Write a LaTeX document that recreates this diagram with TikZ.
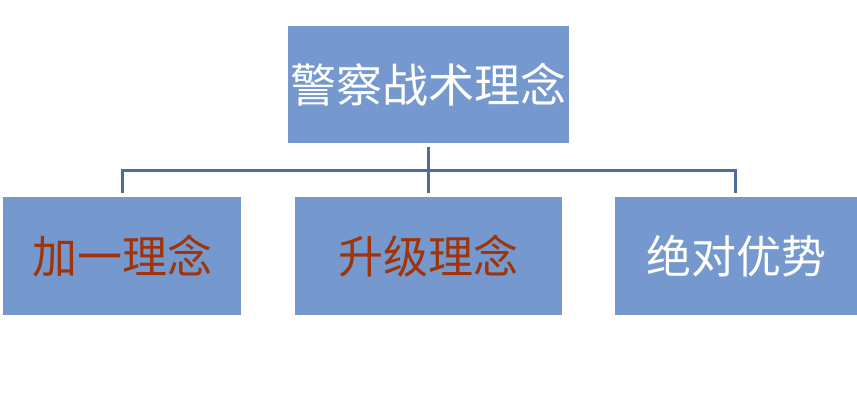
\documentclass[tikz,border=0pt]{standalone}
\usepackage{fontspec}
\newfontfamily\cjk{Noto Sans CJK SC}
\definecolor{boxblue}{RGB}{117,153,207}
\definecolor{linkblue}{RGB}{80,108,156}
\definecolor{darkred}{RGB}{158,52,8}
\begin{document}
\begin{tikzpicture}[x=1pt,y=-1pt,
  orgbox/.style={fill=boxblue,draw=none,inner sep=0pt,anchor=north west,font=\cjk\fontsize{45}{48}\selectfont},
  link/.style={draw=linkblue,line width=3pt}]
\useasboundingbox[fill=white] (0,0) rectangle (857,419);
\node[orgbox,text=white,minimum width=281pt,minimum height=117pt,font=\cjk\fontsize{46}{48}\selectfont] (top) at (288,26) {警察战术理念};
\node[orgbox,text=darkred,minimum width=238pt,minimum height=118pt] (l) at (3,197) {加一理念};
\node[orgbox,text=darkred,minimum width=267pt,minimum height=118pt] (m) at (295,197) {升级理念};
\node[orgbox,text=white,minimum width=242pt,minimum height=118pt] (r) at (615,197) {绝对优势};
\coordinate (hl) at (122,171);
\coordinate (hr) at (735,171);
\draw[link] ([yshift=-4pt]top.south) -- ([yshift=4pt]m.north -| top.south);
\draw[link,line join=miter] ([yshift=4pt]l.north -| hl) -- (hl) -- (hr) -- ([yshift=4pt]r.north -| hr);
\end{tikzpicture}
\end{document}
